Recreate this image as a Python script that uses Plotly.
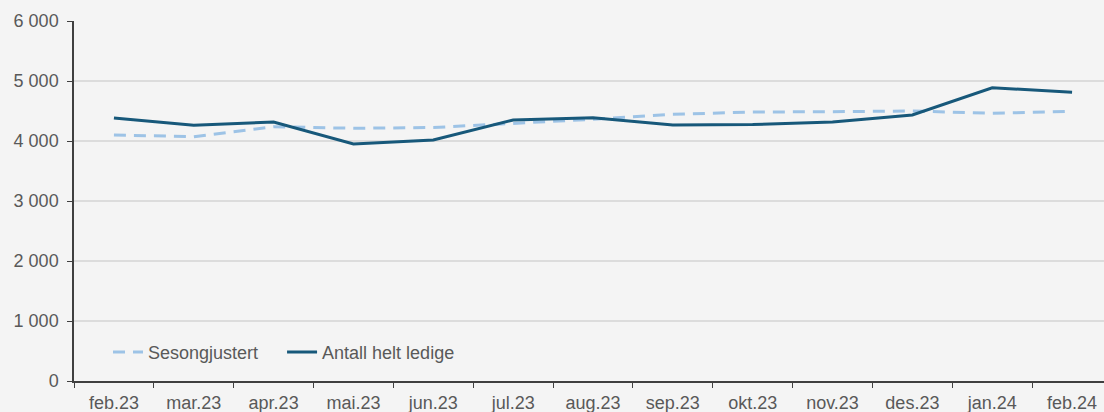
import plotly.graph_objects as go

categories = ["feb.23", "mar.23", "apr.23", "mai.23", "jun.23", "jul.23", "aug.23",
              "sep.23", "okt.23", "nov.23", "des.23", "jan.24", "feb.24"]
sesongjustert = [4100, 4072, 4238, 4212, 4225, 4295, 4362, 4445, 4483, 4488, 4500, 4462, 4495]
antall_helt_ledige = [4383, 4261, 4317, 3950, 4017, 4350, 4388, 4267, 4275, 4317, 4433, 4888, 4812]
y_ticks = [0, 1000, 2000, 3000, 4000, 5000, 6000]
y_tick_text = ["0", "1 000", "2 000", "3 000", "4 000", "5 000", "6 000"]

fig = go.Figure()
fig.add_trace(go.Scatter(
    x=categories, y=sesongjustert, name="Sesongjustert", mode="lines",
    line=dict(color="#9dc3e6", width=3, dash="12px,8px"), legend="legend",
))
fig.add_trace(go.Scatter(
    x=categories, y=antall_helt_ledige, name="Antall helt ledige", mode="lines",
    line=dict(color="#17587a", width=3), legend="legend2",
))

font_family = "Liberation Sans, Arial, sans-serif"
legend_common = dict(orientation="h", y=0.08, xanchor="left", yanchor="middle",
                     bgcolor="rgba(0,0,0,0)", font=dict(size=18, color="#595959"),
                     itemwidth=30)
fig.update_layout(
    width=1104, height=412,
    margin=dict(l=74, r=0, t=21, b=31, autoexpand=False),
    paper_bgcolor="#f4f4f4", plot_bgcolor="#f4f4f4",
    font=dict(family=font_family, size=18, color="#595959"),
    showlegend=True,
    legend=dict(x=0.033, **legend_common),
    legend2=dict(x=0.202, **legend_common),
    xaxis=dict(
        type="category", range=[-0.5, 12.4], automargin=False,
        showline=True, linecolor="#404040", linewidth=1.5,
        ticks="outside", tickson="boundaries", ticklen=5, tickcolor="#404040",
        ticklabelstandoff=5,
        showgrid=False, zeroline=False,
        tickfont=dict(size=18, color="#595959"),
    ),
    yaxis=dict(
        range=[0, 6000], tickvals=y_ticks, ticktext=y_tick_text, automargin=False,
        showline=True, linecolor="#404040", linewidth=1.5,
        ticks="outside", ticklen=5, tickcolor="#404040",
        ticklabelstandoff=5,
        showgrid=True, gridcolor="#dcdcdc", gridwidth=1.5, zeroline=False,
        tickfont=dict(size=18, color="#595959"),
    ),
)

fig.write_html(
    "out.html",
    config={"displayModeBar": False},
    post_script="document.body.style.margin='0';document.body.style.overflow='hidden';"
                "document.documentElement.style.overflow='hidden';",
)
